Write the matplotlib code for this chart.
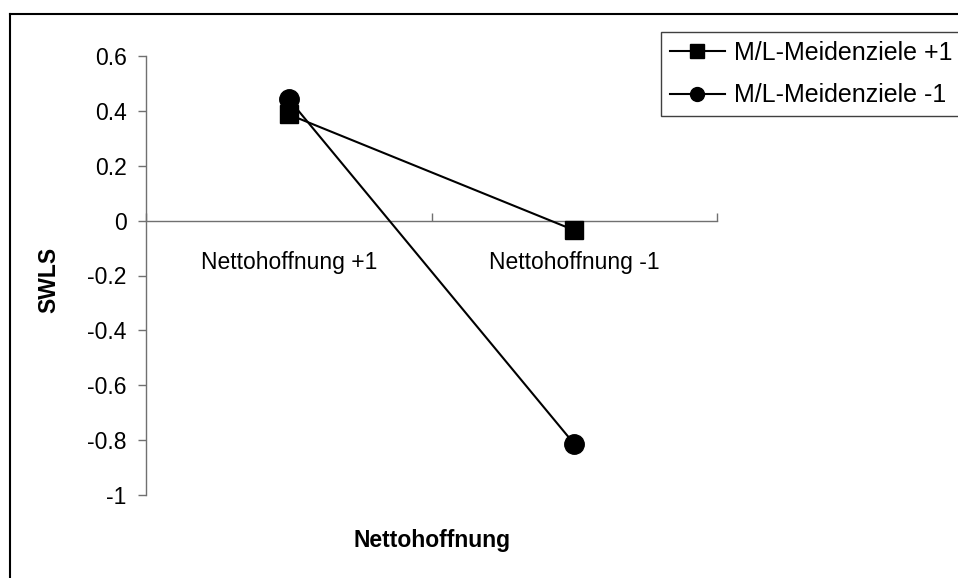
import matplotlib
matplotlib.use("Agg")
import matplotlib.pyplot as plt
from matplotlib.lines import Line2D

plt.rcParams['font.family'] = ['Liberation Sans', 'DejaVu Sans']

categories = ["Nettohoffnung +1", "Nettohoffnung -1"]
series_names = ["M/L-Meidenziele +1", "M/L-Meidenziele -1"]
meiden_plus = [0.387, -0.035]
meiden_minus = [0.443, -0.814]
y_ticks = [-1, -0.8, -0.6, -0.4, -0.2, 0, 0.2, 0.4, 0.6]
y_tick_labels = ["-1", "-0.8", "-0.6", "-0.4", "-0.2", "0", "0.2", "0.4", "0.6"]

W, H = 958, 578
FS = 16.5
fig = plt.figure(figsize=(W / 100, H / 100), dpi=100)
ax = fig.add_axes([146 / W, 1 - 495 / H, (717 - 146) / W, (495 - 56) / H])

x = list(range(len(categories)))
axis_col = "#707070"

ax.plot(x, meiden_plus, color="black", lw=1.5, marker="s", ms=13.5,
        label=series_names[0], zorder=3)
ax.plot(x, meiden_minus, color="black", lw=1.5, marker="o", ms=14,
        label=series_names[1], zorder=3)

ax.set_xlim(-0.5, len(categories) - 0.5)
ax.set_ylim(-1, 0.6)

for s in ["top", "right"]:
    ax.spines[s].set_visible(False)
ax.spines["left"].set_color(axis_col)
ax.spines["left"].set_linewidth(1.0)
ax.spines["bottom"].set_position(("data", 0))
ax.spines["bottom"].set_color(axis_col)
ax.spines["bottom"].set_linewidth(1.0)

ax.set_yticks(y_ticks)
ax.set_yticklabels(y_tick_labels, fontsize=FS)
ax.tick_params(axis="y", direction="out", length=6, width=1.0,
               color=axis_col, pad=8)

ax.set_xticks([-0.5, 0.5, 1.5])
ax.set_xticklabels([])
ax.tick_params(axis="x", which="major", direction="in", length=6,
               width=1.0, color=axis_col)
ax.set_xticks(x, minor=True)
ax.set_xticklabels(categories, minor=True, fontsize=FS)
ax.tick_params(axis="x", which="minor", length=0, pad=22)

fig.text(49 / W, 1 - 280 / H, "SWLS", rotation=90, fontsize=FS,
         fontweight="bold", ha="center", va="center")
fig.text(432 / W, 1 - 540 / H, "Nettohoffnung", fontsize=FS,
         fontweight="bold", ha="center", va="center")

handles = [
    Line2D([], [], color="black", lw=1.5, marker="s", ms=10),
    Line2D([], [], color="black", lw=1.5, marker="o", ms=10),
]
leg = fig.legend(handles, series_names, loc="upper left",
                 bbox_to_anchor=(661 / W, 1 - 32 / H), fontsize=18,
                 frameon=True, fancybox=False, framealpha=1,
                 edgecolor="#404040", handlelength=2.2, handletextpad=0.38,
                 labelspacing=0.75, borderpad=0.35, borderaxespad=0)
leg.get_frame().set_linewidth(1.0)

# outer chart border
fig.add_artist(Line2D([10 / W, 1.0], [1 - 14 / H, 1 - 14 / H],
                      transform=fig.transFigure, color="black", lw=1.5))
fig.add_artist(Line2D([10 / W, 10 / W], [0.0, 1 - 14 / H],
                      transform=fig.transFigure, color="black", lw=1.5))

fig.savefig("out.png", dpi=100)
